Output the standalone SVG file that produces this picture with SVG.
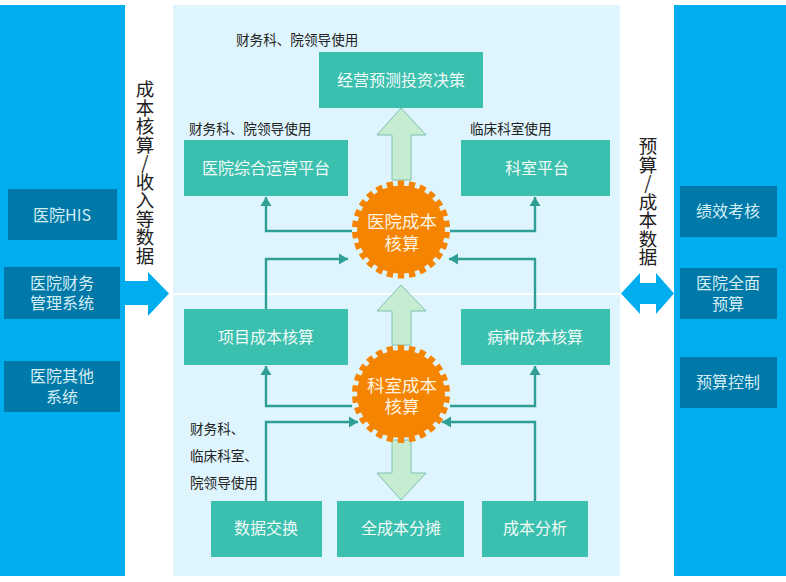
<svg xmlns="http://www.w3.org/2000/svg" width="786" height="582" viewBox="0 0 786 582">
<style>
text{font-family:"Noto Sans CJK SC","Noto Sans",sans-serif;text-anchor:middle}
.band{fill:#00aeef}
.dk{fill:#0079a8}
.dt{fill:#d5edf5;font-size:16px}
.tl{fill:#3bbfae}
.tt{fill:#f0fbf8;font-size:16px}
.nt{fill:#222;font-size:13.6px;text-anchor:start}
.vt{fill:#222;font-size:18.5px;text-anchor:start;writing-mode:vertical-rl;text-orientation:upright}
.gear{fill:#f58400}
.teeth{fill:none;stroke:#f58400;stroke-width:6;stroke-dasharray:1.15 0.85;stroke-dashoffset:-0.42}
.gt{fill:#fff3e0;font-size:17.5px}
.big{fill:#c6edd2;stroke:#7cc0b2;stroke-width:1}
.con{fill:none;stroke:#2f9e94;stroke-width:2.4;marker-end:url(#ah)}
</style>
<defs>
<marker id="ah" markerUnits="userSpaceOnUse" markerWidth="12" markerHeight="12" refX="9" refY="6" orient="auto"><path d="M0,0.5L9,6L0,11.5Z" fill="#2f9e94"/></marker>
</defs>
<rect width="786" height="582" fill="#fff"/>
<rect class="band" x="0" y="5" width="125" height="571"/>
<rect class="band" x="674" y="5" width="112" height="571"/>
<rect x="173" y="5" width="447" height="571" fill="#dff5fd"/>
<rect x="173" y="293" width="447" height="2" fill="#fff"/>
<g id="flows">
<path class="band" d="M125,281H148V272L169,293.500L148,316V305H125Z"/>
<path class="band" d="M621,293.500L640,273V283H656V273L674,293.500L656,314V304H640V314Z"/>
</g>
<g id="big-arrows">
<path class="big" d="M392,180V135H377L401,108L426,135H411V180Z"/>
<path class="big" d="M392,345V311H377L401,285L426,311H411V345Z"/>
<path class="big" d="M392,440V473H377L401,500L426,473H411V440Z"/>
</g>
<g id="connectors">
<path class="con" d="M352,231H266V197"/>
<path class="con" d="M450,231H535V197"/>
<path class="con" d="M266,309V259H348"/>
<path class="con" d="M535,309V259H449"/>
<path class="con" d="M352,406H266V366"/>
<path class="con" d="M450,406H535V366"/>
<path class="con" d="M266,501V422H358"/>
<path class="con" d="M535,501V422H442"/>
</g>
<g id="n-his"><rect class="dk" x="8" y="189" width="109" height="51"/><text class="dt" x="62" y="221">医院HIS</text></g>
<g id="n-fin"><rect class="dk" x="4" y="267" width="116" height="52"/><text class="dt" x="62" y="289">医院财务<tspan x="62" dy="20">管理系统</tspan></text></g>
<g id="n-oth"><rect class="dk" x="4" y="361" width="116" height="51"/><text class="dt" x="62" y="382">医院其他<tspan x="62" dy="21">系统</tspan></text></g>
<g id="n-kpi"><rect class="dk" x="680" y="186" width="97" height="51"/><text class="dt" x="728" y="217">绩效考核</text></g>
<g id="n-bud"><rect class="dk" x="680" y="268" width="97" height="51"/><text class="dt" x="728" y="289">医院全面<tspan x="728" dy="21">预算</tspan></text></g>
<g id="n-ctl"><rect class="dk" x="680" y="357" width="97" height="51"/><text class="dt" x="728" y="388">预算控制</text></g>
<g id="v-left"><text class="vt" x="145" y="80">成本核算/收入等数据</text></g>
<g id="v-right"><text class="vt" x="648" y="137">预算/成本数据</text></g>
<g id="n-top"><rect class="tl" x="319" y="52" width="164" height="56"/><text class="tt" x="401" y="86">经营预测投资决策</text></g>
<g id="n-ops"><rect class="tl" x="184" y="140" width="164" height="56"/><text class="tt" x="266" y="174">医院综合运营平台</text></g>
<g id="n-dep"><rect class="tl" x="461" y="140" width="149" height="56"/><text class="tt" x="537" y="174">科室平台</text></g>
<g id="n-prj"><rect class="tl" x="184" y="309" width="164" height="56"/><text class="tt" x="266" y="343">项目成本核算</text></g>
<g id="n-dis"><rect class="tl" x="461" y="309" width="149" height="56"/><text class="tt" x="535" y="343">病种成本核算</text></g>
<g id="n-ex"><rect class="tl" x="211" y="501" width="111" height="56"/><text class="tt" x="266" y="534">数据交换</text></g>
<g id="n-all"><rect class="tl" x="337" y="501" width="127" height="56"/><text class="tt" x="401" y="534">全成本分摊</text></g>
<g id="n-ana"><rect class="tl" x="482" y="501" width="106" height="56"/><text class="tt" x="535" y="534">成本分析</text></g>
<g id="notes">
<text class="nt" x="236" y="45">财务科、院领导使用</text>
<text class="nt" x="189" y="134">财务科、院领导使用</text>
<text class="nt" x="470" y="134">临床科室使用</text>
<text class="nt" x="190" y="434">财务科、</text>
<text class="nt" x="190" y="461">临床科室、</text>
<text class="nt" x="190" y="488">院领导使用</text>
</g>
<g id="g-hosp"><circle class="gear" cx="401" cy="229.500" r="44"/><circle class="teeth" cx="401" cy="229.500" r="46" pathLength="52"/><text class="gt" x="402" y="228">医院成本<tspan x="402" dy="22">核算</tspan></text></g>
<g id="g-dept"><circle class="gear" cx="401" cy="394" r="44"/><circle class="teeth" cx="401" cy="394" r="46" pathLength="52"/><text class="gt" x="402" y="392">科室成本<tspan x="402" dy="21">核算</tspan></text></g>
</svg>
